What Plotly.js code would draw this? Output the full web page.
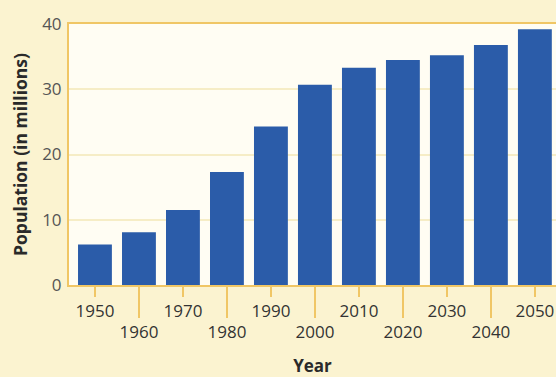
<!DOCTYPE html>
<html><head><meta charset="utf-8">
<script src="https://cdn.plot.ly/plotly-3.0.1.min.js"></script>
<style>html,body{margin:0;padding:0;background:#fbf3d0;}#chart{width:556px;height:377px;}</style>
</head><body><div id="chart"></div>
<script>
const years = [1950,1960,1970,1980,1990,2000,2010,2020,2030,2040,2050];
const population = [6.2,8.1,11.5,17.3,24.3,30.7,33.3,34.5,35.2,36.8,39.2];
const upperTicks = [1950,1970,1990,2010,2030,2050];
const lowerTicks = [1960,1980,2000,2020,2040];
const yTicks = [0,10,20,30,40];

const font = "Open Sans, sans-serif";
const tickColor = "#f0c665";
const xRange = [1944.1, 2054.8];

const data = [
  {type:'bar', x:years, y:population, marker:{color:'#2b5ca9', line:{width:0}}, width:7.7, hoverinfo:'skip'},
  {type:'scatter', x:[lowerTicks[0]], y:[0], xaxis:'x2', mode:'markers', marker:{opacity:0}, hoverinfo:'skip', showlegend:false}
];

const layout = {
  width:556, height:377,
  margin:{l:69, r:0, t:24, b:92},
  paper_bgcolor:'#fbf3d0',
  plot_bgcolor:'#fffdf3',
  showlegend:false,
  font:{family:font, color:'#444'},
  xaxis:{
    range:xRange, tickvals:upperTicks, ticktext:upperTicks.map(String),
    ticks:'outside', ticklen:10, tickwidth:2, tickcolor:tickColor,
    showline:true, linecolor:tickColor, linewidth:2, mirror:true,
    showgrid:false, zeroline:false, fixedrange:true,
    tickfont:{size:17, color:'#333', family:font},
    title:{text:'<b>Year</b>', font:{size:17, color:'#2a2a2a', family:font}, standoff:44}
  },
  xaxis2:{
    range:xRange, overlaying:'x', anchor:'y', side:'bottom',
    tickvals:lowerTicks, ticktext:lowerTicks.map(String),
    ticks:'outside', ticklen:32, tickwidth:2, tickcolor:tickColor,
    showline:false, showgrid:false, zeroline:false, fixedrange:true,
    tickfont:{size:17, color:'#333', family:font}
  },
  yaxis:{
    range:[0,40], tickvals:yTicks, ticktext:yTicks.map(String),
    ticks:'', showline:true, linecolor:tickColor, linewidth:2,
    showgrid:true, gridcolor:'#f6edc6', gridwidth:2, zeroline:false,
    tickfont:{size:17, color:'#555', family:font}, ticklabelstandoff:2,
    title:{text:'<b>Population (in millions)</b>', font:{size:17.5, color:'#2a2a2a', family:font}, standoff:10},
    fixedrange:true
  }
};
Plotly.newPlot('chart', data, layout, {displayModeBar:false, staticPlot:true});
</script></body></html>
